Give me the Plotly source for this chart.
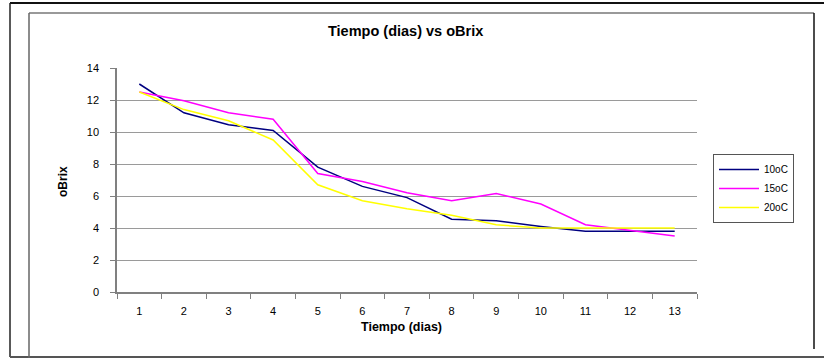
import plotly.graph_objects as go

# Días de medición y grados Brix por temperatura
dias = [str(d) for d in range(1, 14)]
brix_10 = [13.0, 11.2, 10.45, 10.1, 7.8, 6.6, 5.9, 4.55, 4.45, 4.1, 3.8, 3.8, 3.8]
brix_15 = [12.5, 11.95, 11.2, 10.8, 7.4, 6.9, 6.2, 5.7, 6.15, 5.5, 4.2, 3.85, 3.5]
brix_20 = [12.5, 11.4, 10.7, 9.5, 6.7, 5.7, 5.2, 4.8, 4.2, 4.0, 4.0, 4.0, 4.0]
y_ticks = [0, 2, 4, 6, 8, 10, 12, 14]

W, H = 824, 358
L, R, T, B = 117, 697, 68, 292   # plot area in pixels


def px(x):
    return (x - L) / (R - L)


def py(y):
    return (B - y) / (B - T)


FONT = "Liberation Sans, Arial, sans-serif"

fig = go.Figure()
for name, vals, col in [("10oC", brix_10, "#000080"),
                        ("15oC", brix_15, "#FF00FF"),
                        ("20oC", brix_20, "#FFFF00")]:
    fig.add_trace(go.Scatter(x=dias, y=vals, name=name, mode="lines",
                             line=dict(color=col, width=1.5)))

shapes = [
    # outer frame
    dict(type="line", x0=px(10), x1=px(830), y0=py(3), y1=py(3), line=dict(color="#111", width=2)),
    dict(type="line", x0=px(10), x1=px(10), y0=py(3), y1=py(357), line=dict(color="#222", width=1.5)),
    dict(type="line", x0=px(10), x1=px(830), y0=py(357), y1=py(357), line=dict(color="#555", width=2)),
    # inner chart frame
    dict(type="line", x0=px(29), x1=px(814), y0=py(13), y1=py(13), line=dict(color="#777", width=1.5)),
    dict(type="line", x0=px(29), x1=px(29), y0=py(13), y1=py(359), line=dict(color="#666", width=1.5)),
    dict(type="line", x0=px(814), x1=px(814), y0=py(13), y1=py(349), line=dict(color="#111", width=1.5)),
]
for s in shapes:
    s.update(xref="paper", yref="paper", layer="above")

fig.update_layout(
    width=W, height=H,
    margin=dict(l=L, r=W - R, t=T, b=H - B, pad=0),
    paper_bgcolor="white", plot_bgcolor="white",
    font=dict(family=FONT, size=10, color="black"),
    showlegend=True,
    legend=dict(x=px(713), y=py(154), xanchor="left", yanchor="top",
                bordercolor="#555", borderwidth=1, bgcolor="white",
                font=dict(family=FONT, size=10), tracegroupgap=0,
                itemwidth=40),
    shapes=shapes,
    annotations=[
        dict(text="<b>Tiempo (dias) vs oBrix</b>", x=px(405), y=py(31), xref="paper", yref="paper",
             xanchor="center", yanchor="middle",
             showarrow=False, font=dict(size=14.5, family=FONT)),
        dict(text="<b>Tiempo (dias)</b>", x=px(401), y=py(327), xref="paper", yref="paper",
             xanchor="center", yanchor="middle",
             showarrow=False, font=dict(size=12.5, family=FONT)),
        dict(text="<b>oBrix</b>", x=px(63), y=py(182), xref="paper", yref="paper",
             xanchor="center", yanchor="middle",
             showarrow=False, textangle=-90, font=dict(size=12, family=FONT)),
    ],
    xaxis=dict(type="category", tickson="boundaries", ticks="outside", ticklen=5,
               tickcolor="#808080", showline=True, linecolor="#808080", linewidth=1.5,
               showgrid=False, zeroline=False, range=[-0.5, 12.5],
               tickfont=dict(size=11, family=FONT), ticklabelstandoff=8),
    yaxis=dict(range=[0, 14], tickvals=y_ticks, ticks="outside", ticklen=5,
               tickcolor="#808080", showline=True, linecolor="#808080", linewidth=1.5,
               showgrid=True, gridcolor="#9a9a9a", gridwidth=1.2, zeroline=False,
               tickfont=dict(size=11, family=FONT), ticklabelstandoff=9),
)

fig.write_html("out.html")
